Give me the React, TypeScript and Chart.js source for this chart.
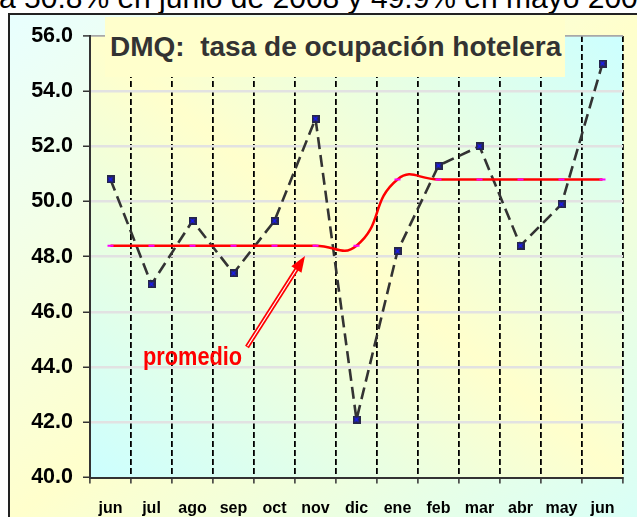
import React, { useEffect, useRef } from "react";
import { Chart, registerables } from "chart.js";

Chart.register(...registerables);

const months = ["jun", "jul", "ago", "sep", "oct", "nov", "dic", "ene", "feb", "mar", "abr", "may", "jun"];
const ocupacion = [50.8, 47.0, 49.3, 47.4, 49.3, 53.0, 42.1, 48.2, 51.3, 52.0, 48.4, 49.9, 55.0];
const promedio = [48.4, 48.4, 48.4, 48.4, 48.4, 48.4, 48.4, 50.8, 50.8, 50.8, 50.8, 50.8, 50.8];
const yTicks = [40, 42, 44, 46, 48, 50, 52, 54, 56];
const headline = "a 50.8% en junio de 2008 y 49.9% en mayo 2009";
const titleText = "DMQ:  tasa de ocupación hotelera";
const avgLabel = "promedio";

const FONT = "'Liberation Sans', Arial, Helvetica, sans-serif";

function makeMarker(): HTMLCanvasElement {
  const c = document.createElement("canvas");
  c.width = 8;
  c.height = 8;
  const g = c.getContext("2d")!;
  g.fillStyle = "#262648";
  g.fillRect(0, 0, 8, 8);
  g.strokeStyle = "#1a1aff";
  g.lineWidth = 1.3;
  g.beginPath();
  g.moveTo(2, 2);
  g.lineTo(6, 6);
  g.moveTo(6, 2);
  g.lineTo(2, 6);
  g.stroke();
  return c;
}

const bgPlugin = {
  id: "bgPlugin",
  beforeDraw(chart: any) {
    const { ctx, width: W, height: H, chartArea: a } = chart;
    ctx.save();
    const f1 = (2 * W * H) / (W * W + H * H);
    const g1 = ctx.createLinearGradient(0, 0, H * f1, W * f1);
    g1.addColorStop(0, "#e8ffff");
    g1.addColorStop(0.5, "#ffffcc");
    g1.addColorStop(1, "#d8fff8");
    ctx.fillStyle = g1;
    ctx.fillRect(0, 0, W, H);
    const w = a.right - a.left;
    const h = a.bottom - a.top;
    const f2 = (2 * w * h) / (w * w + h * h);
    const g2 = ctx.createLinearGradient(a.left, a.bottom, a.left + h * f2, a.bottom - w * f2);
    g2.addColorStop(0, "#ccffff");
    g2.addColorStop(0.5, "#ffffcc");
    g2.addColorStop(1, "#ccffff");
    ctx.fillStyle = g2;
    ctx.fillRect(a.left, a.top, w, h);
    ctx.strokeStyle = "#222222";
    ctx.lineWidth = 2;
    ctx.strokeRect(1, 1, W + 10, H + 10);
    ctx.restore();
  },
};

const arrowPlugin = {
  id: "arrowPlugin",
  afterDatasetsDraw(chart: any) {
    const ctx = chart.ctx;
    const x0 = 239, y0 = 334, x1 = 297, y1 = 243;
    const dx = x1 - x0, dy = y1 - y0;
    const len = Math.hypot(dx, dy);
    const ux = dx / len, uy = dy / len;
    const hl = 16, hw = 6;
    const bx = x1 - ux * hl, by = y1 - uy * hl;
    const px = -uy, py = ux;
    ctx.save();
    ctx.lineCap = "butt";
    ctx.strokeStyle = "#ff0000";
    ctx.lineWidth = 4.5;
    ctx.beginPath();
    ctx.moveTo(x0, y0);
    ctx.lineTo(bx + ux * 2, by + uy * 2);
    ctx.stroke();
    ctx.strokeStyle = "#ffffff";
    ctx.lineWidth = 1.1;
    ctx.beginPath();
    ctx.moveTo(x0 + ux * 1, y0 + uy * 1);
    ctx.lineTo(bx, by);
    ctx.stroke();
    ctx.fillStyle = "#ff0000";
    ctx.beginPath();
    ctx.moveTo(x1, y1);
    ctx.lineTo(bx + px * hw, by + py * hw);
    ctx.lineTo(bx - px * hw, by - py * hw);
    ctx.closePath();
    ctx.fill();
    ctx.restore();
  },
};

export default function App() {
  const ref = useRef<HTMLCanvasElement>(null);

  useEffect(() => {
    const canvas = ref.current!;
    const marker = makeMarker();
    const chart = new Chart(canvas, {
      type: "line",
      data: {
        labels: months,
        datasets: [
          {
            label: "promedio",
            data: promedio,
            borderColor: "#ff0000",
            borderWidth: 2.5,
            tension: 0.5,
            pointStyle: "line",
            pointRadius: 3,
            pointBorderColor: "#ff00ff",
            pointBackgroundColor: "#ff00ff",
            pointBorderWidth: 2,
            fill: false,
          },
          {
            label: "tasa de ocupación",
            data: ocupacion,
            borderColor: "#333333",
            borderWidth: 2.6,
            borderDash: [12, 6],
            tension: 0,
            pointStyle: marker as any,
            pointRadius: 4,
            fill: false,
          },
        ],
      },
      options: {
        responsive: false,
        animation: false,
        devicePixelRatio: 1,
        layout: { padding: { left: 0, top: 22.5, right: 25, bottom: 0 } },
        plugins: {
          legend: { display: false },
          tooltip: { enabled: false },
          title: { display: false },
        },
        scales: {
          x: {
            type: "category",
            offset: true,
            grid: {
              offset: true,
              color: (c: any) => (c.index === 0 ? "rgba(0,0,0,0)" : "#000000"),
              lineWidth: 1.8,
              tickColor: "#333333",
              tickLength: 6,
              tickWidth: 1.5,
            },
            border: { display: true, color: "#333333", width: 2, dash: [6, 3] },
            ticks: {
              color: "#000000",
              font: { family: FONT, size: 16, weight: "bold" },
              padding: 15,
              maxRotation: 0,
              autoSkip: false,
            },
            afterFit: (s: any) => {
              s.height = 45.5;
            },
          },
          y: {
            min: 40,
            max: 56,
            afterBuildTicks: (s: any) => {
              s.ticks = yTicks.map((v) => ({ value: v }));
            },
            ticks: {
              callback: (v: any) => Number(v).toFixed(1),
              color: "#000000",
              font: { family: FONT, size: 21.5, weight: "bold" },
              padding: 10,
            },
            grid: {
              color: (c: any) =>
                c.tick && c.tick.value === 40 ? "rgba(0,0,0,0)" : c.tick && c.tick.value === 56 ? "#a8a8a8" : "#e2e2e2",
              lineWidth: (c: any) => (c.tick && c.tick.value === 56 ? 1.8 : 2.5),
              tickColor: "#333333",
              tickLength: 7,
              tickWidth: 1.5,
            },
            border: { display: true, color: "#333333", width: 2 },
            afterFit: (s: any) => {
              s.width = 82;
            },
          },
        },
      } as any,
      plugins: [bgPlugin, arrowPlugin],
    });
    return () => chart.destroy();
  }, []);

  return (
    <div
      style={{
        position: "fixed",
        left: 0,
        top: 0,
        width: 637,
        height: 517,
        overflow: "hidden",
        background: "#ffffff",
        fontFamily: FONT,
      }}
    >
      <div
        style={{
          position: "absolute",
          left: -1,
          top: -17,
          fontSize: 30,
          lineHeight: "30px",
          whiteSpace: "nowrap",
          color: "#000",
        }}
      >
        {headline}
      </div>
      <div style={{ position: "absolute", left: 8, top: 13, width: 640, height: 510 }}>
        <canvas ref={ref} width={640} height={510} style={{ width: 640, height: 510, display: "block" }} />
      </div>
      <div
        style={{
          position: "absolute",
          left: 105,
          top: 17,
          width: 460,
          height: 60,
          background: "#ffffcc",
        }}
      >
        <span
          style={{
            position: "absolute",
            left: 5,
            top: 16,
            fontSize: 28,
            lineHeight: "28px",
            fontWeight: "bold",
            color: "#333333",
            whiteSpace: "pre",
          }}
        >
          {titleText}
        </span>
      </div>
      <div
        style={{
          position: "absolute",
          left: 143,
          top: 344,
          fontSize: 25,
          lineHeight: "25px",
          fontWeight: "bold",
          color: "#ff0000",
          whiteSpace: "nowrap",
          transform: "scaleX(0.87)",
          transformOrigin: "left top",
        }}
      >
        {avgLabel}
      </div>
    </div>
  );
}
